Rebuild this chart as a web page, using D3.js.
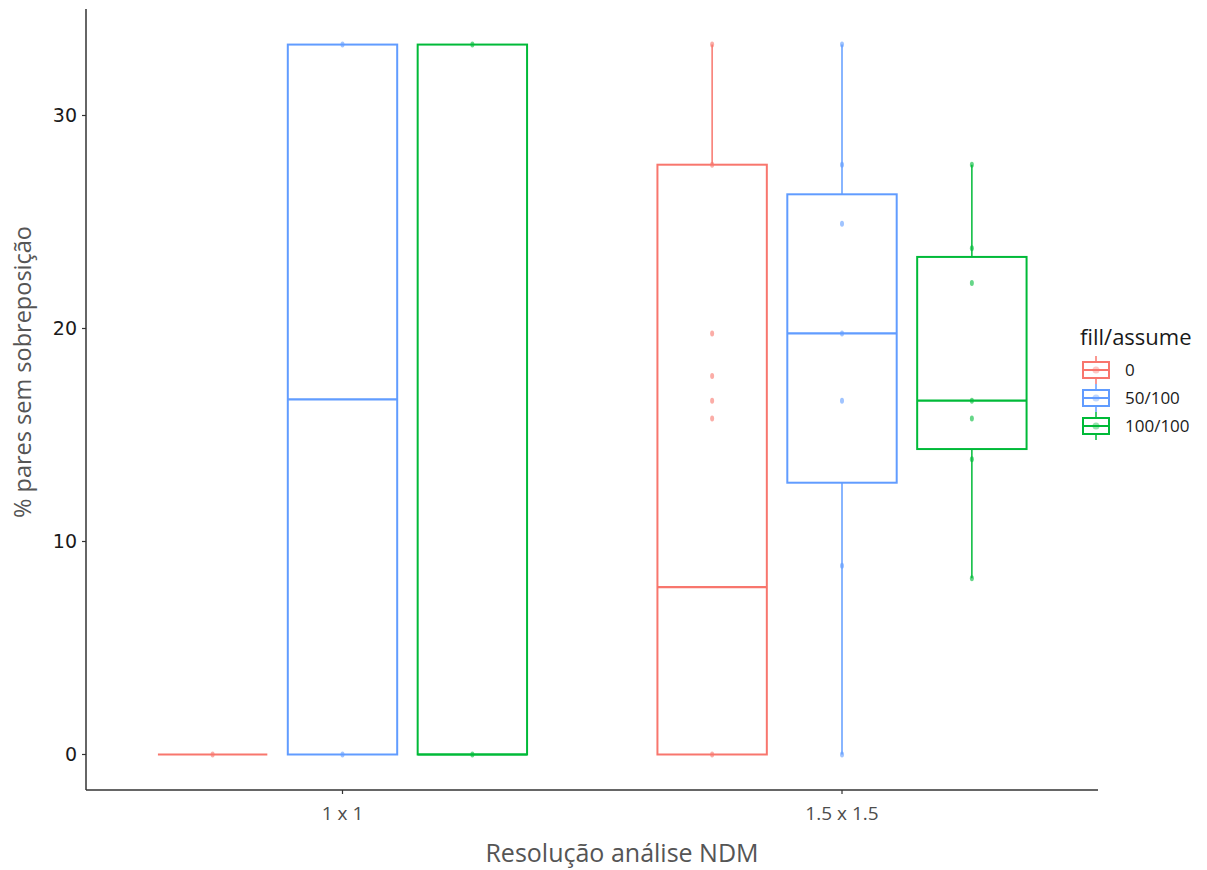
<!DOCTYPE html>
<html>
<head>
<meta charset="utf-8">
<script src="https://cdn.jsdelivr.net/npm/d3@7"></script>
<style>
  body { margin: 0; background: #fff; }
  svg text { font-family: "Open Sans", sans-serif; }
</style>
</head>
<body>
<svg id="chart" width="1207" height="870"></svg>
<script>
// data
const categories = ["1 x 1", "1.5 x 1.5"];
const groups = ["0", "50/100", "100/100"];
const colors = ["#F8766D", "#619CFF", "#00BA38"];
const yTicks = [0, 10, 20, 30];

// box stats per group: [min, q1, median, q3, max] for each category
const stats0 = [[0, 0, 0, 0, 0], [0, 0, 7.86, 27.69, 33.33]];
const stats50 = [[0, 0, 16.67, 33.33, 33.33], [0, 12.76, 19.77, 26.3, 33.33]];
const stats100 = [[0, 0, 0, 33.33, 33.33], [8.28, 14.34, 16.61, 23.36, 27.69]];

// observed points per group and category
const pts0 = [[0], [33.33, 27.69, 19.77, 17.77, 16.61, 15.78, 0]];
const pts50 = [[33.33, 0], [33.33, 27.69, 24.92, 19.77, 16.61, 8.86, 0]];
const pts100 = [[33.33, 0], [27.69, 23.77, 22.14, 16.61, 15.78, 13.86, 8.28]];

const allStats = [stats0, stats50, stats100];
const allPts = [pts0, pts50, pts100];

const svg = d3.select("#chart");

const x = d3.scaleLinear().domain([0.4865, 2.5125]).range([86, 1098]);
const y = d3.scaleLinear().domain([-1.667, 35]).range([790, 9]);
const dodge = 0.26;
const boxW = 0.219;

// build box records
const boxes = [];
const points = [];
groups.forEach((g, gi) => {
  categories.forEach((c, ci) => {
    const s = allStats[gi][ci];
    const cx = ci + 1 + (gi - 1) * dodge;
    boxes.push({ g: gi, cx, min: s[0], q1: s[1], med: s[2], q3: s[3], max: s[4] });
    allPts[gi][ci].forEach(v => points.push({ g: gi, cx, v }));
  });
});

// axes
svg.append("line").attr("x1", 86).attr("x2", 86).attr("y1", y.range()[1]).attr("y2", 790)
  .attr("stroke", "#333").attr("stroke-width", 1.5);
svg.append("line").attr("x1", 86).attr("x2", 1098).attr("y1", 790).attr("y2", 790)
  .attr("stroke", "#333").attr("stroke-width", 1.5);

svg.selectAll(".ytick").data(yTicks).join("line")
  .attr("x1", 82).attr("x2", 86).attr("y1", d => y(d)).attr("y2", d => y(d))
  .attr("stroke", "#333").attr("stroke-width", 1.2);
svg.selectAll(".ylab").data(yTicks).join("text")
  .attr("x", 77).attr("y", d => y(d)).attr("dy", "0.36em")
  .attr("text-anchor", "end").attr("font-size", 19).attr("fill", "#1a1a1a")
  .style("font-family", "'DejaVu Sans', sans-serif")
  .text(d => d);

svg.selectAll(".xtick").data(categories).join("line")
  .attr("x1", (d, i) => x(i + 1)).attr("x2", (d, i) => x(i + 1))
  .attr("y1", 790).attr("y2", 794).attr("stroke", "#333").attr("stroke-width", 1.2);
svg.selectAll(".xlab").data(categories).join("text")
  .attr("x", (d, i) => x(i + 1)).attr("y", 820)
  .attr("text-anchor", "middle").attr("font-size", 19).attr("fill", "#4d4d4d")
  .text(d => d);

svg.append("text").attr("x", 622).attr("y", 862).attr("text-anchor", "middle")
  .attr("font-size", 25).attr("fill", "#555").text("Resolução análise NDM");
svg.append("text").attr("transform", "translate(31,372) rotate(-90)")
  .attr("text-anchor", "middle").attr("font-size", 23.5).attr("fill", "#555")
  .text("% pares sem sobreposição");

// whiskers
const gBox = svg.append("g");
gBox.selectAll(".wh").data(boxes).join("line")
  .attr("x1", d => x(d.cx)).attr("x2", d => x(d.cx))
  .attr("y1", d => y(d.max)).attr("y2", d => y(d.q3))
  .attr("stroke", d => colors[d.g]).attr("stroke-width", 1.5);
gBox.selectAll(".wl").data(boxes).join("line")
  .attr("x1", d => x(d.cx)).attr("x2", d => x(d.cx))
  .attr("y1", d => y(d.q1)).attr("y2", d => y(d.min))
  .attr("stroke", d => colors[d.g]).attr("stroke-width", 1.5);
// boxes
gBox.selectAll(".box").data(boxes).join("rect")
  .attr("x", d => x(d.cx - boxW / 2)).attr("width", d => x(d.cx + boxW / 2) - x(d.cx - boxW / 2))
  .attr("y", d => y(d.q3)).attr("height", d => y(d.q1) - y(d.q3))
  .attr("fill", "white").attr("stroke", d => colors[d.g]).attr("stroke-width", 2);
gBox.selectAll(".med").data(boxes).join("line")
  .attr("x1", d => x(d.cx - boxW / 2)).attr("x2", d => x(d.cx + boxW / 2))
  .attr("y1", d => y(d.med)).attr("y2", d => y(d.med))
  .attr("stroke", d => colors[d.g]).attr("stroke-width", 2.2);
// points
gBox.selectAll(".pt").data(points).join("ellipse")
  .attr("cx", d => x(d.cx)).attr("cy", d => y(d.v))
  .attr("rx", 2).attr("ry", 3)
  .attr("fill", d => colors[d.g]).attr("opacity", 0.6);

// legend
const leg = svg.append("g");
leg.append("text").attr("x", 1080).attr("y", 345).attr("font-size", 22).attr("fill", "#1a1a1a")
  .text("fill/assume");
const keyY = [370, 398, 426];
groups.forEach((g, i) => {
  const k = leg.append("g").attr("transform", `translate(1096,${keyY[i]})`);
  k.append("line").attr("x1", 0).attr("x2", 0).attr("y1", -14).attr("y2", 14)
    .attr("stroke", colors[i]).attr("stroke-width", 1.5);
  k.append("rect").attr("x", -13).attr("y", -8).attr("width", 26).attr("height", 16)
    .attr("fill", "white").attr("stroke", colors[i]).attr("stroke-width", 2);
  k.append("line").attr("x1", -13).attr("x2", 13).attr("y1", 0).attr("y2", 0)
    .attr("stroke", colors[i]).attr("stroke-width", 2);
  k.append("circle").attr("r", 3.5).attr("fill", colors[i]).attr("opacity", 0.4);
  leg.append("text").attr("x", 1125).attr("y", keyY[i]).attr("dy", "0.36em")
    .attr("font-size", 17).attr("fill", "#1a1a1a").text(g);
});
</script>
</body>
</html>
